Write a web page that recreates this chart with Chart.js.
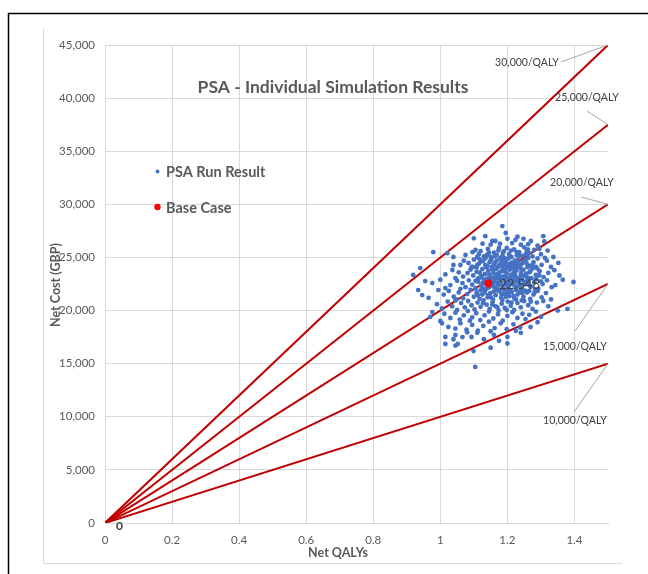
<!DOCTYPE html>
<html><head><meta charset="utf-8">
<script src="https://cdn.jsdelivr.net/npm/chart.js@4.4.1/dist/chart.umd.min.js"></script>
<style>html,body{margin:0;padding:0;background:#fff}#wrap{width:648px;height:574px}</style>
</head><body><div id="wrap"><canvas id="c" width="648" height="574"></canvas></div>
<script>
const chartTitle = 'PSA - Individual Simulation Results';
const xAxisTitle = 'Net QALYs';
const yAxisTitle = 'Net Cost (GBP)';
const legendLabels = ['PSA Run Result', 'Base Case'];
const qalyRange = [0, 1.5];
const costRange = [0, 45000];
const qalyStep = 0.2;
const costStep = 5000;
const wtpThresholds = [10000, 15000, 20000, 25000, 30000];
const wtpLabels = ['10,000/QALY', '15,000/QALY', '20,000/QALY', '25,000/QALY', '30,000/QALY'];
const baseCaseQaly = 1.143;
const baseCaseCost = 22548;
const baseCaseLabel = '22,548';
const originLabel = '0';
// [net QALYs, net cost] for each PSA run
const psaRuns = [
[1.185,27950],[1.307,27000],[1.134,27000],[1.100,26800],[1.155,26550],[1.164,26550],[1.200,26750],[1.224,26650],[1.248,26750],[1.270,26550],
[1.290,26100],[1.214,26350],[1.178,26300],[1.126,26300],[1.240,26200],[1.262,26250],[1.310,26500],[1.230,26950],[1.195,27300],[1.150,26200],
[0.979,25500],[1.021,25400],[1.075,25230],[1.096,25500],[1.039,25040],[1.110,25040],[1.120,25600],[1.142,25800],[1.160,25450],[1.175,25900],
[1.190,25600],[1.205,25300],[1.220,25750],[1.235,25500],[1.250,25950],[1.265,25400],[1.280,25700],[1.300,25300],[1.320,25650],[1.337,25040],
[1.130,25100],[1.150,25050],[1.185,25150],[1.212,25050],[1.245,25150],[1.275,25100],[1.295,25800],[1.105,25700],[1.168,25250],[1.228,25200],[1.258,25600],
[1.039,24290],[1.060,24290],[1.084,24480],[0.940,24000],[1.100,24800],[1.115,24400],[1.128,24700],[1.140,24200],[1.152,24850],[1.163,24500],
[1.172,24100],[1.183,24700],[1.192,24350],[1.203,24900],[1.212,24500],[1.222,24150],[1.232,24750],[1.243,24400],[1.255,24800],[1.266,24200],
[1.278,24550],[1.290,24900],[1.302,24300],[1.318,24700],[1.352,24480],[1.330,24100],[1.070,24700],[1.093,24100],[1.108,24050],[1.135,24950],
[1.178,24950],[1.198,24050],[1.238,24050],[1.262,24950],[1.285,24100],[1.312,24950],
[0.919,23350],[1.036,23820],[1.081,23530],[1.045,23060],[1.055,23600],[1.068,23200],[1.090,23850],[1.098,23300],[1.108,23650],[1.118,23100],
[1.125,23900],[1.133,23450],[1.143,23750],[1.150,23150],[1.158,23550],[1.166,23900],[1.175,23300],[1.183,23700],[1.190,23050],[1.198,23500],
[1.207,23850],[1.215,23250],[1.223,23650],[1.232,23050],[1.240,23450],[1.248,23850],[1.257,23200],[1.266,23600],[1.275,23950],[1.285,23350],
[1.296,23700],[1.308,23150],[1.322,23550],[1.340,23800],[1.355,23300],[1.015,23400],[1.112,23000],[1.170,23050],[1.228,23950],[1.262,23050],
[0.955,22780],[0.976,22590],[1.015,22120],[1.066,22590],[1.000,22900],[1.030,22400],[1.050,22800],[1.075,22200],[1.085,22850],[1.095,22450],
[1.105,22100],[1.113,22700],[1.122,22300],[1.130,22900],[1.138,22050],[1.155,22750],[1.162,22200],[1.170,22600],[1.178,22950],[1.186,22350],
[1.194,22750],[1.202,22100],[1.210,22500],[1.218,22900],[1.226,22250],[1.234,22650],[1.243,22050],[1.251,22450],[1.260,22850],[1.270,22250],
[1.280,22650],[1.292,22050],[1.305,22500],[1.318,22850],[1.332,22200],[1.343,22400],[1.397,22690],[1.365,22900],[1.060,22050],[1.148,22450],
[0.934,21930],[0.946,21460],[0.994,21930],[0.965,21200],[1.010,21500],[1.025,21850],[1.040,21300],[1.055,21700],[1.068,21150],[1.080,21550],
[1.090,21950],[1.100,21300],[1.108,21700],[1.117,21100],[1.125,21500],[1.133,21900],[1.141,21250],[1.149,21650],[1.157,21050],[1.165,21450],
[1.173,21850],[1.181,21200],[1.189,21600],[1.197,21950],[1.205,21350],[1.213,21750],[1.221,21100],[1.230,21500],[1.239,21900],[1.248,21300],
[1.258,21700],[1.268,21100],[1.278,21500],[1.290,21850],[1.302,21250],[1.315,21650],[1.330,21050],[1.048,21050],[1.112,21450],[1.185,21000],
[0.990,20600],[1.005,20200],[1.022,20850],[1.035,20400],[1.050,20050],[1.062,20700],[1.073,20300],[1.083,20900],[1.093,20500],[1.102,20100],
[1.111,20750],[1.120,20350],[1.129,20950],[1.138,20550],[1.147,20150],[1.156,20800],[1.165,20400],[1.174,20000],[1.183,20650],[1.192,20250],
[1.201,20850],[1.210,20450],[1.220,20050],[1.230,20700],[1.240,20300],[1.250,20900],[1.262,20500],[1.275,20150],[1.288,20750],[1.307,20900],
[1.322,20400],[1.379,20150],[1.350,20000],[1.045,20950],[1.198,20050],[1.270,20850],
[0.976,19860],[0.970,19400],[1.000,19020],[1.012,19700],[1.030,19300],[1.045,19800],[1.058,19150],[1.070,19550],[1.082,19950],[1.095,19350],
[1.107,19750],[1.119,19100],[1.132,19550],[1.145,19900],[1.158,19250],[1.172,19650],[1.186,19050],[1.200,19500],[1.215,19850],[1.230,19300],
[1.254,19200],[1.245,19700],[1.265,19600],[1.285,19900],[1.300,19400],[1.088,19050],
[1.024,18450],[1.045,18300],[1.060,18800],[1.078,18200],[1.095,18650],[1.112,18100],[1.128,18550],[1.145,18950],[1.162,18350],[1.180,18800],
[1.198,18250],[1.218,18700],[1.238,18400],[1.269,18450],[1.225,18100],[1.290,18900],[1.005,18800],[1.150,18050],
[1.015,17510],[1.039,17300],[1.045,17700],[1.066,17500],[1.093,17510],[1.110,17900],[1.130,17300],[1.160,17700],[1.200,17510],[1.175,17150],
[1.240,17900],[1.080,17950],
[1.015,16850],[1.045,16700],[1.052,16850],[1.099,16190],[1.104,14690],[1.150,16500],[1.200,16900],
[1.121,24620],[1.137,24080],[1.146,23380],[1.161,22880],[1.176,24280],[1.188,23220],[1.196,22480],[1.209,24160],[1.219,23520],[1.227,22760],
[1.236,24360],[1.244,22920],[1.253,21880],[1.159,21780],[1.171,23040],[1.182,24480],[1.193,21580],[1.204,22980],[1.214,24060],[1.225,21960],
[1.131,22560],[1.143,21440],[1.153,24120],[1.164,23160],[1.177,21920],[1.189,23840],[1.201,22260],[1.211,23380],[1.222,24700],[1.233,23000],
[1.118,23560],[1.128,22080],[1.139,23000],[1.147,24550],[1.158,22300],[1.168,24700],[1.180,22620],[1.191,24950],[1.203,21700],[1.216,22620],
[1.224,23260],[1.235,21700],[1.246,24600],[1.256,23480],[1.266,22350],[1.110,24300],[1.120,21900],[1.134,24300],[1.142,22700],[1.154,23900],
[1.167,22000],[1.176,23600],[1.187,22000],[1.195,24600],[1.207,23100],[1.218,21350],[1.229,24450],[1.240,23150],[1.250,22700],[1.260,24100],
[1.272,23050],[1.283,22000],[1.295,23300],[1.105,22800],[1.097,24100],[1.115,25300],[1.145,25450],[1.173,25650],[1.198,25900],[1.228,25500],[1.255,25300],
[1.124,23250],[1.136,22850],[1.149,24650],[1.157,22600],[1.169,23400],[1.181,23050],[1.192,23700],[1.205,22650],[1.213,23950],[1.226,23750],
[1.238,22350],[1.249,23300],[1.262,22650],[1.274,24300],[1.286,22950],[1.132,21700],[1.146,22200],[1.160,24300],[1.173,22350],[1.185,24100],
[1.196,23200],[1.209,21900],[1.221,22350],[1.232,24150],[1.244,21650],[1.257,24450],[1.269,23750],[1.281,21700],[1.117,24850],[1.139,25250],
[1.163,25100],[1.187,25450],[1.210,25650],[1.236,25150],[1.261,25750],[1.126,22600],[1.151,21250],[1.178,22750],[1.202,24350],[1.217,24350],
[1.241,23650],[1.265,21850],[1.289,23950],[1.300,22750],[1.155,20550],[1.182,21550],[1.212,20750],[1.243,20950],[1.127,20700],[1.170,20300],
[1.195,21300],[1.226,21050]
];

const FONT = "Lato, 'Liberation Sans', sans-serif";
const GRAY = '#595959';
Chart.defaults.font.family = FONT;

const lineDatasets = wtpThresholds.map((w, i) => ({
  type: 'line',
  label: wtpLabels[i],
  data: [{x: qalyRange[0], y: qalyRange[0] * w}, {x: qalyRange[1], y: qalyRange[1] * w}],
  borderColor: '#C00000',
  borderWidth: 2,
  pointRadius: 0,
  showLine: true,
  fill: false,
  order: 3
}));

const decor = {
  id: 'decor',
  beforeDraw(chart) {
    const ctx = chart.ctx;
    ctx.save();
    ctx.fillStyle = '#fff';
    ctx.fillRect(0, 0, chart.width, chart.height);
    ctx.strokeStyle = '#D9D9D9';
    ctx.lineWidth = 1;
    ctx.beginPath();
    ctx.moveTo(43.5, 28); ctx.lineTo(43.5, 563.5); ctx.lineTo(622, 563.5);
    ctx.stroke();
    ctx.strokeStyle = '#000';
    ctx.lineWidth = 1.5;
    ctx.beginPath();
    ctx.moveTo(8.5, chart.height); ctx.lineTo(8.5, 13.5); ctx.lineTo(chart.width, 13.5);
    ctx.stroke();
    ctx.restore();
  },
  afterDraw(chart) {
    const ctx = chart.ctx;
    const xs = chart.scales.x, ys = chart.scales.y;
    ctx.save();
    // title
    ctx.fillStyle = GRAY;
    ctx.textAlign = 'center';
    ctx.textBaseline = 'middle';
    ctx.font = 'bold 17.5px ' + FONT;
    ctx.fillText(chartTitle, 333, 87);
    // axis titles
    ctx.font = 'bold 12.5px ' + FONT;
    ctx.fillText(xAxisTitle, 338, 553);
    ctx.save();
    ctx.translate(56, 285);
    ctx.rotate(-Math.PI / 2);
    ctx.fillText(yAxisTitle, 0, 0);
    ctx.restore();
    // legend
    ctx.textAlign = 'left';
    ctx.font = 'bold 14.5px ' + FONT;
    ctx.fillStyle = '#4472C4';
    ctx.beginPath(); ctx.arc(157.5, 171.5, 1.9, 0, Math.PI * 2); ctx.fill();
    ctx.fillStyle = '#FF0000';
    ctx.beginPath(); ctx.arc(157.5, 207, 3.2, 0, Math.PI * 2); ctx.fill();
    ctx.fillStyle = GRAY;
    ctx.fillText(legendLabels[0], 166, 172);
    ctx.fillText(legendLabels[1], 166, 208);
    // threshold labels with leader lines
    const offs = [
      {tx: 575, ty: 421, lx: 574, ly: 412},
      {tx: 575, ty: 347, lx: 575, ly: 331},
      {tx: 582, ty: 183, lx: 581, ly: 197},
      {tx: 587, ty: 98, lx: 587, ly: 111},
      {tx: 527, ty: 63, lx: 561, ly: 62}
    ];
    ctx.font = '10.5px ' + FONT;
    ctx.textAlign = 'center';
    wtpThresholds.forEach((w, i) => {
      const ex = xs.getPixelForValue(qalyRange[1]);
      const ey = ys.getPixelForValue(qalyRange[1] * w);
      const o = offs[i];
      ctx.strokeStyle = '#A6A6A6';
      ctx.lineWidth = 1;
      ctx.beginPath(); ctx.moveTo(o.lx, o.ly); ctx.lineTo(ex, ey); ctx.stroke();
      ctx.fillStyle = '#404040';
      ctx.fillText(wtpLabels[i], o.tx, o.ty);
    });
    // base case label
    ctx.textAlign = 'left';
    ctx.font = '13px ' + FONT;
    ctx.fillStyle = '#404040';
    ctx.fillText(baseCaseLabel, xs.getPixelForValue(baseCaseQaly) + 11, ys.getPixelForValue(baseCaseCost) + 1);
    // origin label
    ctx.font = 'bold 12px ' + FONT;
    ctx.fillText(originLabel, xs.getPixelForValue(0) + 11, ys.getPixelForValue(0) + 3);
    ctx.restore();
  }
};

new Chart(document.getElementById('c'), {
  type: 'scatter',
  data: {
    datasets: [
      {
        label: legendLabels[1],
        data: [{x: baseCaseQaly, y: baseCaseCost}],
        backgroundColor: '#FF0000',
        borderColor: '#FF0000',
        pointRadius: 3.6,
        order: 1
      },
      {
        label: legendLabels[0],
        data: psaRuns.map(p => ({x: p[0], y: p[1]})),
        backgroundColor: '#4472C4',
        borderColor: '#4472C4',
        borderWidth: 0,
        pointRadius: 2.4,
        order: 2
      },
      ...lineDatasets
    ]
  },
  options: {
    responsive: false,
    animation: false,
    events: [],
    layout: {padding: {top: 45, right: 40, left: 0, bottom: 0}},
    plugins: {legend: {display: false}, tooltip: {enabled: false}, title: {display: false}},
    scales: {
      x: {
        type: 'linear',
        min: qalyRange[0], max: qalyRange[1],
        afterFit: s => { s.height = 51; },
        grid: {color: '#D9D9D9', drawTicks: false},
        border: {color: '#D9D9D9'},
        ticks: {stepSize: qalyStep, includeBounds: false, padding: 10, color: GRAY, font: {size: 11.5},
          callback: v => String(Number(v.toFixed(1)))}
      },
      y: {
        type: 'linear',
        min: costRange[0], max: costRange[1],
        afterFit: s => { s.width = 105; },
        grid: {color: '#D9D9D9', drawTicks: false},
        border: {color: '#D9D9D9'},
        ticks: {stepSize: costStep, padding: 10, color: GRAY, font: {size: 11.5},
          callback: v => v.toLocaleString('en-US')}
      }
    }
  },
  plugins: [decor]
});
</script>
</body></html>
